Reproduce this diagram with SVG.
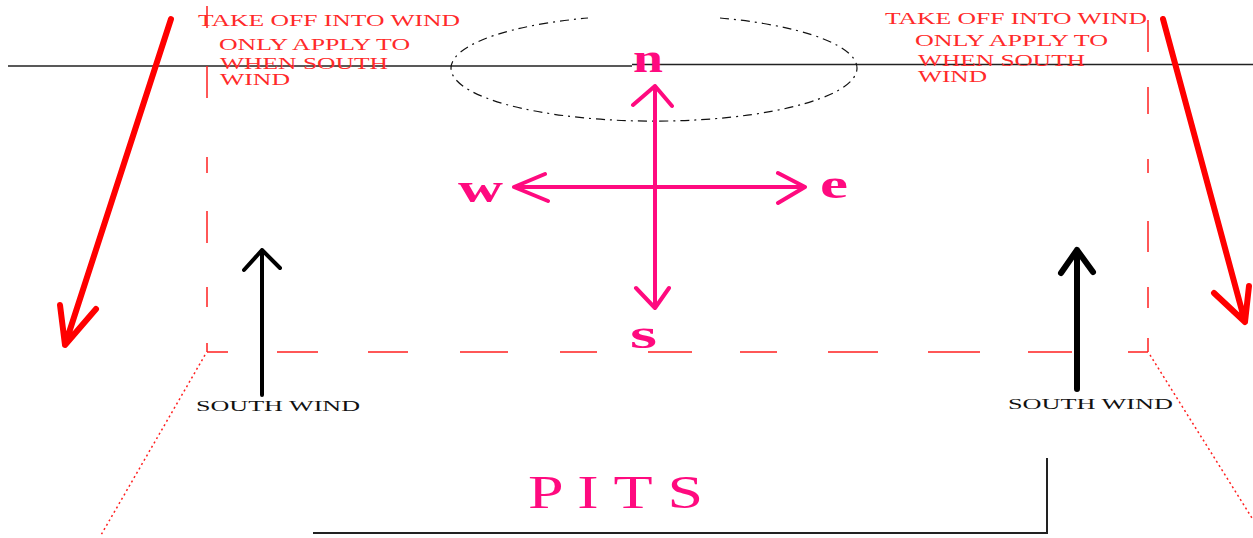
<svg xmlns="http://www.w3.org/2000/svg" width="1253" height="538" viewBox="0 0 1253 538">
<style>
.note{font-family:"Liberation Serif",serif;font-size:16px;fill:#ff2a2a}
.lbl{font-family:"Liberation Serif",serif;font-size:14px;fill:#111}
.dir{font-family:"Liberation Serif",serif;font-weight:bold;font-size:40px;fill:#ff0a7f}
.pink{stroke:#ff0a7f;stroke-width:4;fill:none;stroke-linecap:round;stroke-linejoin:round}
.redarrow{stroke:#ff0000;stroke-width:6;fill:none;stroke-linecap:round;stroke-linejoin:round}
.blk{stroke:#000;fill:none;stroke-linecap:round;stroke-linejoin:round}
.dash{stroke:#ff2020;stroke-width:1.5;fill:none}
.dot{stroke:#ff2020;stroke-width:1.5;fill:none;stroke-dasharray:2 3}
</style>
<rect width="1253" height="538" fill="#fff"/>
<g id="baseline">
<line x1="8" y1="66" x2="632" y2="66" stroke="#222" stroke-width="1.5"/>
<line x1="632" y1="64.5" x2="1253" y2="64.5" stroke="#222" stroke-width="1.5"/>
</g>
<g id="field">
<path class="dash" d="M207 6 V28 M207 66 V98 M207 157 V173 M207 211 V243 M207 287 V307 M207 343 V352"/>
<path class="dash" d="M1148 20 V52 M1148 87 V114 M1148 159 V173 M1148 221 V252 M1148 287 V308 M1148 338 V352"/>
<path class="dash" d="M207 352 H228 M277 352 H318 M368 352 H408 M460 352 H508 M560 352 H597 M648 352 H692 M740 352 H777 M828 352 H878 M928 352 H980 M1028 352 H1072 M1128 352 H1148"/>
<line class="dot" x1="205" y1="355" x2="101" y2="535"/>
<line class="dot" x1="1150" y1="355" x2="1252" y2="518"/>
</g>
<g id="circle">
<path d="M720 18 A203 53 0 1 1 588 18" fill="none" stroke="#111" stroke-width="1.2" stroke-dasharray="9 5 2 5"/>
</g>
<g id="connectors">
<g id="red-left"><path class="redarrow" d="M171 19 L65 345 M60 305 L65 345 L96 309"/></g>
<g id="red-right"><path class="redarrow" d="M1163 19 L1245 322 M1214 293 L1245 322 L1249 286"/></g>
<g id="south-left"><path class="blk" stroke-width="4" d="M262 395 L262 250 M244 270 L262 250 L280 268"/></g>
<g id="south-right"><path class="blk" stroke-width="6" d="M1077 389 L1077 250 M1061 273 L1077 250 L1093 272"/></g>
<g id="compass">
<path class="pink" d="M655 86 L655 308 M633 105 L655 86 L672 106 M636 288 L655 308 L669 288"/>
<path class="pink" d="M514 187 L805 187 M545 174 L514 187 L548 201 M778 173 L805 187 L778 203"/>
</g>
</g>
<g id="compass-labels">
<text class="dir" x="633" y="72" textLength="30" lengthAdjust="spacingAndGlyphs">n</text>
<text class="dir" x="820" y="198" textLength="28" lengthAdjust="spacingAndGlyphs">e</text>
<text class="dir" x="458" y="202" textLength="45" lengthAdjust="spacingAndGlyphs">w</text>
<text class="dir" x="630" y="348" textLength="27" lengthAdjust="spacingAndGlyphs">s</text>
</g>
<g id="note-left">
<text class="note" x="198" y="26" textLength="262" lengthAdjust="spacingAndGlyphs">TAKE OFF INTO WIND</text>
<text class="note" x="219" y="50" textLength="191" lengthAdjust="spacingAndGlyphs">ONLY APPLY TO</text>
<text class="note" x="220" y="69" textLength="168" lengthAdjust="spacingAndGlyphs">WHEN SOUTH</text>
<text class="note" x="220" y="85" textLength="70" lengthAdjust="spacingAndGlyphs">WIND</text>
</g>
<g id="note-right">
<text class="note" x="885" y="24" textLength="262" lengthAdjust="spacingAndGlyphs">TAKE OFF INTO WIND</text>
<text class="note" x="915" y="46" textLength="193" lengthAdjust="spacingAndGlyphs">ONLY APPLY TO</text>
<text class="note" x="918" y="66" textLength="167" lengthAdjust="spacingAndGlyphs">WHEN SOUTH</text>
<text class="note" x="918" y="82" textLength="69" lengthAdjust="spacingAndGlyphs">WIND</text>
</g>
<g id="south-wind-left"><text class="lbl" x="196" y="411" textLength="164" lengthAdjust="spacingAndGlyphs">SOUTH WIND</text></g>
<g id="south-wind-right"><text class="lbl" x="1008" y="409" textLength="165" lengthAdjust="spacingAndGlyphs">SOUTH WIND</text></g>
<g id="pits">
<path d="M313 533 L1047 533 L1047 458" fill="none" stroke="#222" stroke-width="2"/>
<text x="528" y="508" font-family="Liberation Serif, serif" font-size="46" fill="#ff0a7f" textLength="175" lengthAdjust="spacingAndGlyphs">P I T S</text>
</g>
</svg>
